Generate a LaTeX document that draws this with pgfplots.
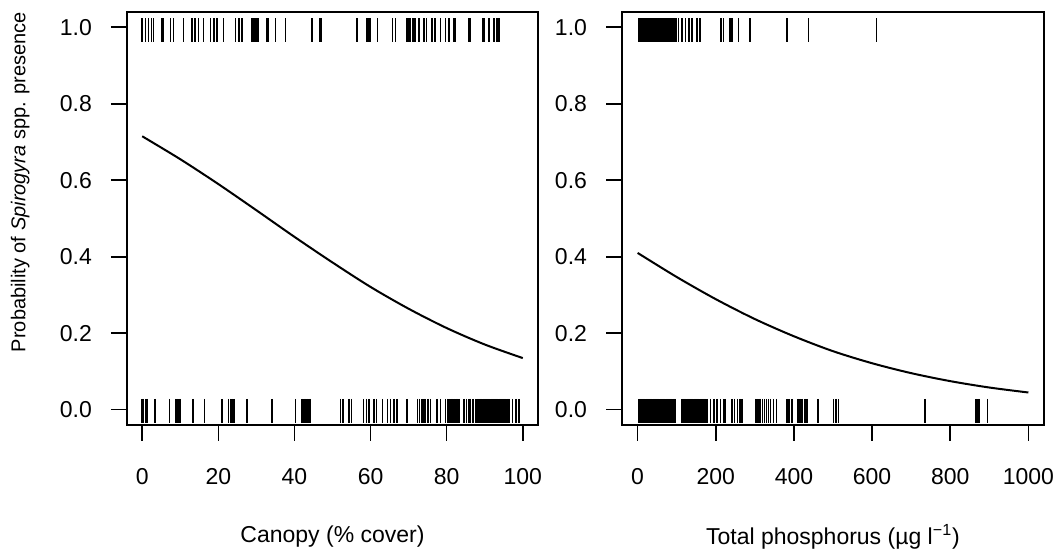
\documentclass[border=0pt]{standalone}
\usepackage{pgfplots}
\pgfplotsset{compat=1.18}
\usepackage{fontspec}
\setmainfont{Liberation Sans}
\begin{document}
\begin{tikzpicture}
\pgfplotsset{
  rugax/.style={
    scale only axis,
    height=206.5pt,
    ymin=-0.04, ymax=1.04,
    axis line style={line width=0.8pt},
    tick align=outside,
    major tick length=8pt,
    every tick/.style={line width=0.8pt, black},
    xtick pos=lower, ytick pos=left,
    ytick={0,0.2,0.4,0.6,0.8,1.0},
    yticklabel style={/pgf/number format/.cd, fixed, fixed zerofill, precision=1},
    xticklabel style={/pgf/number format/.cd, 1000 sep={}},
    /pgf/number format/assume math mode=true,
    font=\fontsize{11.5}{13}\selectfont,
    xticklabel shift=10pt,
    yticklabel shift=6pt,
    xlabel style={at={(axis description cs:0.5,-0.271)}, anchor=center},
  },
  rug/.style={only marks, mark=|, mark size=6pt, mark options={line width=0.75pt, black}},
}
\path[use as bounding box] (0,0) rectangle (527pt,275pt);

% ---------------- left panel ----------------
\begin{axis}[rugax,
  at={(63.5pt,62.5pt)}, anchor=south west,
  width=205.5pt,
  xmin=-4, xmax=104,
  xtick={0,20,40,60,80,100},
  xlabel={Canopy (\% cover)},
  ylabel={Probability of \textit{Spirogyra} spp. presence},
  ylabel style={at={(axis description cs:-0.26,0.588)}, anchor=center, font=\fontsize{10}{12}\selectfont},
]
\addplot[rug] coordinates {
(0,0.992)(0.8,0.992)(1.7,0.992)(2.5,0.992)(3.0,0.992)(5.2,0.992)(5.6,0.992)(7.4,0.992)(8.2,0.992)(10.9,0.992)
(13.1,0.992)(13.9,0.992)(14.8,0.992)(16.1,0.992)(17.9,0.992)(18.8,0.992)(19.6,0.992)(21.4,0.992)(24.5,0.992)(25.4,0.992)
(26.2,0.992)(28.9,0.992)(29.3,0.992)(29.7,0.992)(30.2,0.992)(30.6,0.992)(32.8,0.992)(33.2,0.992)(35.0,0.992)(37.6,0.992)
(44.6,0.992)(46.7,0.992)(47.1,0.992)(56.5,0.992)(59.1,0.992)(59.6,0.992)(60.0,0.992)(61.8,0.992)(65.7,0.992)(66.6,0.992)
(69.6,0.992)(70.0,0.992)(70.4,0.992)(71.0,0.992)(71.4,0.992)(71.8,0.992)(72.7,0.992)(74.0,0.992)(74.7,0.992)(76.2,0.992)
(76.9,0.992)(78.4,0.992)(79.7,0.992)(80.6,0.992)(81.9,0.992)(82.3,0.992)(85.9,0.992)(86.3,0.992)(89.4,0.992)(89.8,0.992)
(91.1,0.992)(92.5,0.992)(93.2,0.992)(93.8,0.992)
};
\addplot[rug] coordinates {
(0,-0.003)(0.4,-0.003)(0.8,-0.003)(1.2,-0.003)(3.4,-0.003)(7.2,-0.003)(8.7,-0.003)(9.1,-0.003)(9.6,-0.003)(10.0,-0.003)
(13.3,-0.003)(16.3,-0.003)(21.0,-0.003)(22.7,-0.003)(23.2,-0.003)(23.6,-0.003)(24.1,-0.003)(27.5,-0.003)(34.1,-0.003)(40.3,-0.003)
(42.0,-0.003)(42.5,-0.003)(42.8,-0.003)(43.3,-0.003)(43.8,-0.003)(44.2,-0.003)(52.1,-0.003)(52.8,-0.003)(54.3,-0.003)(55.0,-0.003)
(58.2,-0.003)(58.9,-0.003)(59.6,-0.003)(60.9,-0.003)(61.6,-0.003)(63.1,-0.003)(64.4,-0.003)(65.3,-0.003)(66.1,-0.003)(67.0,-0.003)
(69.6,-0.003)(72.3,-0.003)(72.9,-0.003)(73.5,-0.003)(74.0,-0.003)(74.5,-0.003)(75.1,-0.003)(75.8,-0.003)(77.5,-0.003)(78.4,-0.003)
(79.7,-0.003)(80.2,-0.003)(80.6,-0.003)(81.1,-0.003)(81.5,-0.003)(81.9,-0.003)(82.4,-0.003)(82.8,-0.003)(83.2,-0.003)(84.6,-0.003)
(85.2,-0.003)(85.9,-0.003)(86.3,-0.003)(86.9,-0.003)(87.6,-0.003)(88.0,-0.003)(88.3,-0.003)(88.6,-0.003)(88.9,-0.003)(89.2,-0.003)
(89.5,-0.003)(89.8,-0.003)(90.1,-0.003)(90.4,-0.003)(90.7,-0.003)(91.0,-0.003)(91.3,-0.003)(91.6,-0.003)(91.9,-0.003)(92.2,-0.003)
(92.5,-0.003)(92.8,-0.003)(93.1,-0.003)(93.4,-0.003)(93.7,-0.003)(94.0,-0.003)(94.3,-0.003)(94.6,-0.003)(94.9,-0.003)(95.2,-0.003)
(95.5,-0.003)(95.8,-0.003)(96.1,-0.003)(96.4,-0.003)(97.3,-0.003)(98.2,-0.003)(99.0,-0.003)
};
\addplot[black, line width=1pt, smooth] coordinates {
(0,0.715)(10,0.655)(20,0.590)(30,0.5215)(40,0.452)(50,0.385)(60,0.321)(70,0.264)(80,0.2135)(90,0.1705)(100,0.135)
};
\end{axis}

% ---------------- right panel ----------------
\begin{axis}[rugax,
  at={(311pt,62.5pt)}, anchor=south west,
  width=211pt,
  xmin=-40, xmax=1040,
  xtick={0,200,400,600,800,1000},
  xlabel={Total phosphorus (µg l\textsuperscript{−1})},
]
\addplot[rug] coordinates {
(3,0.992)(6,0.992)(9,0.992)(12,0.992)(15,0.992)(18,0.992)(21,0.992)(24,0.992)(27,0.992)(30,0.992)
(33,0.992)(36,0.992)(39,0.992)(42,0.992)(45,0.992)(48,0.992)(51,0.992)(54,0.992)(57,0.992)(60,0.992)
(63,0.992)(66,0.992)(69,0.992)(72,0.992)(75,0.992)(78,0.992)(81,0.992)(84,0.992)(87,0.992)(90,0.992)
(93,0.992)(96,0.992)(99,0.992)(105,0.992)(114,0.992)(122,0.992)(131,0.992)(139,0.992)(152,0.992)(160,0.992)
(212,0.992)(215,0.992)(220,0.992)(237,0.992)(241,0.992)(258,0.992)(288,0.992)(382,0.992)(437,0.992)(611,0.992)
};
\addplot[rug] coordinates {
(3,-0.003)(6,-0.003)(9,-0.003)(12,-0.003)(15,-0.003)(18,-0.003)(21,-0.003)(24,-0.003)(27,-0.003)(30,-0.003)
(33,-0.003)(36,-0.003)(39,-0.003)(42,-0.003)(45,-0.003)(48,-0.003)(51,-0.003)(54,-0.003)(57,-0.003)(60,-0.003)
(63,-0.003)(66,-0.003)(69,-0.003)(72,-0.003)(75,-0.003)(78,-0.003)(81,-0.003)(84,-0.003)(87,-0.003)(90,-0.003)
(93,-0.003)(96,-0.003)(114,-0.003)(117,-0.003)(120,-0.003)(123,-0.003)(126,-0.003)(129,-0.003)(132,-0.003)(135,-0.003)
(138,-0.003)(141,-0.003)(144,-0.003)(147,-0.003)(150,-0.003)(153,-0.003)(156,-0.003)(159,-0.003)(162,-0.003)(165,-0.003)
(168,-0.003)(171,-0.003)(174,-0.003)(177,-0.003)(187,-0.003)(195,-0.003)(203,-0.003)(212,-0.003)(220,-0.003)(224,-0.003)
(241,-0.003)(248,-0.003)(255,-0.003)(262,-0.003)(267,-0.003)(301,-0.003)(305,-0.003)(310,-0.003)(315,-0.003)(320,-0.003)
(325,-0.003)(330,-0.003)(335,-0.003)(340,-0.003)(348,-0.003)(356,-0.003)(382,-0.003)(387,-0.003)(395,-0.003)(411,-0.003)
(416,-0.003)(421,-0.003)(428,-0.003)(433,-0.003)(462,-0.003)(501,-0.003)(508,-0.003)(514,-0.003)(735,-0.003)(866,-0.003)
(871,-0.003)(875,-0.003)(896,-0.003)
};
\addplot[black, line width=1pt, smooth] coordinates {
(0,0.410)(100,0.347)(200,0.289)(300,0.237)(400,0.192)(500,0.153)(600,0.1215)(700,0.0956)(800,0.0747)(900,0.058)(1000,0.045)
};
\end{axis}
\end{tikzpicture}
\end{document}
